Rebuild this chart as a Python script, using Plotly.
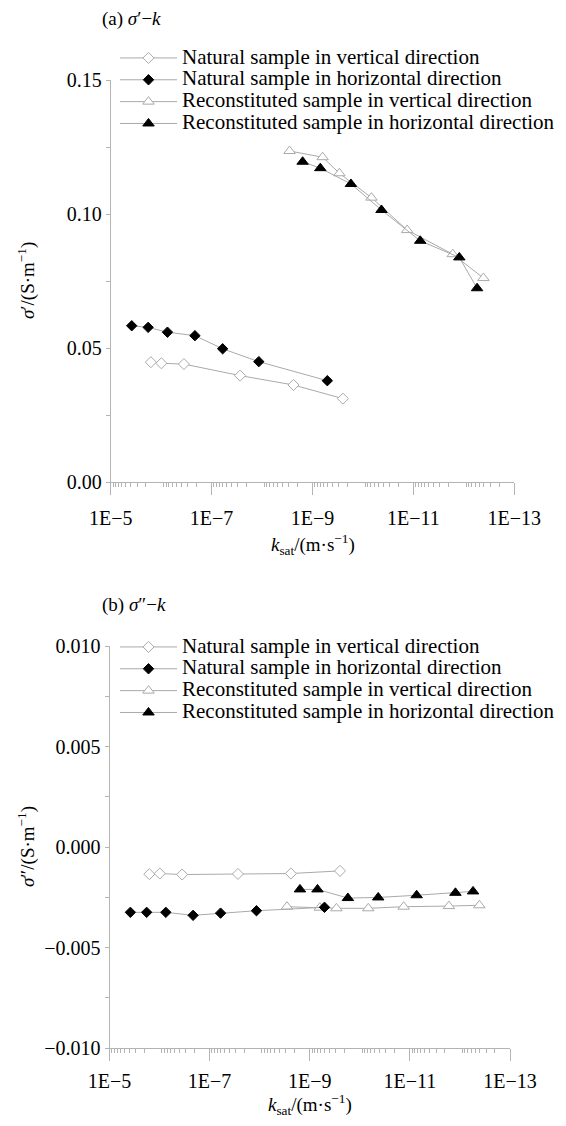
import plotly.graph_objects as go

# ---------------- data ----------------
legend_names = [
    "Natural sample in vertical direction",
    "Natural sample in horizontal direction",
    "Reconstituted sample in vertical direction",
    "Reconstituted sample in horizontal direction",
]

# saturated hydraulic conductivity k_sat (m/s)
k_nat_v = [1.60e-6, 9.9e-7, 3.54e-7, 2.72e-8, 2.38e-9, 2.49e-10]
k_nat_h = [3.83e-6, 1.81e-6, 7.5e-7, 2.14e-7, 6.04e-8, 1.16e-8, 5.08e-10]
k_rec_v = [2.85e-9, 6.3e-10, 2.93e-10, 6.78e-11, 1.33e-11, 1.66e-12, 4.09e-13]
k_rec_h = [1.57e-9, 7.0e-10, 1.73e-10, 4.29e-11, 7.33e-12, 1.23e-12, 5.47e-13]

# (a) real conductivity sigma' (S/m)
s1_nat_v = [0.0447, 0.0443, 0.0440, 0.0397, 0.0362, 0.0311]
s1_nat_h = [0.0583, 0.0577, 0.0559, 0.0546, 0.0497, 0.0449, 0.0378]
s1_rec_v = [0.1235, 0.1212, 0.1152, 0.1061, 0.0940, 0.0850, 0.0761]
s1_rec_h = [0.1195, 0.1171, 0.1112, 0.1015, 0.0900, 0.0838, 0.0723]

# (b) imaginary conductivity sigma'' (S/m)
s2_nat_v = [-0.00135, -0.00132, -0.00137, -0.00134, -0.00132, -0.00119]
s2_nat_h = [-0.00325, -0.00325, -0.00325, -0.00340, -0.00329, -0.00317, -0.00300]
s2_rec_v = [-0.00297, -0.00302, -0.00305, -0.00305, -0.00297, -0.00294, -0.00290]
s2_rec_h = [-0.00211, -0.00211, -0.00254, -0.00251, -0.00240, -0.00228, -0.00221]

x_tick_exps = list(range(-5, -14, -1))
x_label_exps = [-5, -7, -9, -11, -13]

# ---------------- layout helpers ----------------
W, H = 566, 1126
FONT = "Liberation Serif, Times New Roman, serif"
GRAY = "#aaaaaa"
AXC = "#b4b4b4"


def px_x(p):
    return p / W


def px_y(p):
    return 1 - p / H


styles = [
    dict(symbol="diamond", size=8.5, color="white", line=dict(color=GRAY, width=1)),
    dict(symbol="diamond", size=8, color="black", line=dict(color="black", width=1)),
    dict(symbol="triangle-up", size=10, color="white", line=dict(color=GRAY, width=1)),
    dict(symbol="triangle-up", size=10, color="black", line=dict(color="black", width=1)),
]

fig = go.Figure()

panels = [
    ("x", "y", [k_nat_v, k_nat_h, k_rec_v, k_rec_h], [s1_nat_v, s1_nat_h, s1_rec_v, s1_rec_h], "legend"),
    ("x2", "y2", [k_nat_v, k_nat_h, k_rec_v, k_rec_h], [s2_nat_v, s2_nat_h, s2_rec_v, s2_rec_h], "legend2"),
]
draw_order = [0, 2, 1, 3]
for xa, ya, ks, ss, leg in panels:
    for i in draw_order:
        fig.add_trace(go.Scatter(
            x=ks[i], y=ss[i], mode="lines+markers",
            name=f"<span style='font-size:21px'>{legend_names[i]}</span>",
            line=dict(color=GRAY, width=1),
            marker=styles[i],
            xaxis=xa, yaxis=ya,
            legend=leg, legendrank=i + 1,
        ))

minor_vals = [m * 10.0 ** e for e in range(-13, -5) for m in range(2, 10)]
label_vals = [10.0 ** e for e in x_label_exps]
label_text = [f"1E\u2212{-e}" for e in x_label_exps]
decade_vals = [10.0 ** e for e in x_tick_exps]

xaxis_common = dict(
    type="log", range=[-5, -13], tickvals=label_vals, ticktext=label_text,
    ticks="outside", ticklen=12, tickcolor=AXC, tickwidth=1,
    showline=True, linecolor=AXC, linewidth=1, showgrid=False, zeroline=False,
    automargin=False,
    tickfont=dict(family=FONT, size=20, color="black"),
    minor=dict(tickvals=minor_vals, ticks="outside", ticklen=4, tickcolor=AXC, showgrid=False),
)
xaxis_decades = dict(
    type="log", range=[-5, -13], tickvals=decade_vals, showticklabels=False,
    ticks="outside", ticklen=12, tickcolor=AXC, tickwidth=1,
    showline=False, showgrid=False, zeroline=False, automargin=False, side="bottom",
)
yaxis_common = dict(
    ticks="outside", ticklen=4, tickcolor=AXC, tickwidth=1,
    showline=True, linecolor=AXC, linewidth=1, showgrid=False, zeroline=False,
    automargin=False,
    tickfont=dict(family=FONT, size=20, color="black"),
)

top = dict(x0=110.7, x1=514.3, y0=80, y1=482)
bot = dict(x0=109.5, x1=510.0, y0=646, y1=1048)

fig.update_layout(
    width=W, height=H,
    margin=dict(l=0, r=0, t=0, b=0, pad=0, autoexpand=False),
    paper_bgcolor="white", plot_bgcolor="white",
    font=dict(family=FONT, color="black"),
    xaxis=dict(domain=[px_x(top["x0"]), px_x(top["x1"])], anchor="y",
               ticklabelstandoff=6, **xaxis_common),
    xaxis3=dict(overlaying="x", anchor="y", **xaxis_decades),
    yaxis=dict(domain=[px_y(top["y1"]), px_y(top["y0"])], anchor="x", range=[0, 0.15],
               dtick=0.05, tick0=0, tickformat=".2f",
               minor=dict(dtick=0.025, ticks="outside", ticklen=4, tickcolor=AXC), **yaxis_common),
    xaxis2=dict(domain=[px_x(bot["x0"]), px_x(bot["x1"])], anchor="y2",
                ticklabelstandoff=3, **xaxis_common),
    xaxis4=dict(overlaying="x2", anchor="y2", **xaxis_decades),
    yaxis2=dict(domain=[px_y(bot["y1"]), px_y(bot["y0"])], anchor="x2", range=[-0.01, 0.01],
                dtick=0.005, tick0=0, tickformat=".3f",
                minor=dict(dtick=0.0025, ticks="outside", ticklen=4, tickcolor=AXC), **yaxis_common),
    legend=dict(x=px_x(115), y=px_y(42), xanchor="left", yanchor="top",
                font=dict(family=FONT, size=14.5, color="black"),
                itemwidth=57, bgcolor="rgba(0,0,0,0)", tracegroupgap=0),
    legend2=dict(x=px_x(115), y=px_y(631), xanchor="left", yanchor="top",
                 font=dict(family=FONT, size=14.5, color="black"),
                 itemwidth=57, bgcolor="rgba(0,0,0,0)", tracegroupgap=0),
    showlegend=True,
)

title_font = dict(family=FONT, size=19, color="black")
ann_font = dict(family=FONT, size=19, color="black")
annotations = [
    dict(text="(a) <i>σ</i>′−<i>k</i>", x=px_x(100), y=px_y(19)),
    dict(text="(b) <i>σ</i>″−<i>k</i>", x=px_x(100), y=px_y(605)),
]
for a in annotations:
    fig.add_annotation(xref="paper", yref="paper", xanchor="left", yanchor="middle",
                       showarrow=False, font=title_font, **a)

ytitles = [
    ("<i>σ</i>′/(S·m<sup>−1</sup>)", (top["y0"] + top["y1"]) / 2),
    ("<i>σ</i>″/(S·m<sup>−1</sup>)", (bot["y0"] + bot["y1"]) / 2),
]
for txt, yc in ytitles:
    fig.add_annotation(xref="paper", yref="paper", x=px_x(26), y=px_y(yc),
                       xanchor="center", yanchor="middle", textangle=-90,
                       showarrow=False, font=ann_font, text=txt)

xtitles = [
    ((top["x0"] + top["x1"]) / 2, 544),
    ((bot["x0"] + bot["x1"]) / 2, 1104),
]
for xc, yc in xtitles:
    fig.add_annotation(xref="paper", yref="paper", x=px_x(xc), y=px_y(yc),
                       xanchor="center", yanchor="middle", showarrow=False, font=ann_font,
                       text="<i>k</i><sub>sat</sub>/(m·s<sup>−1</sup>)")

fig.write_html("out.html")
